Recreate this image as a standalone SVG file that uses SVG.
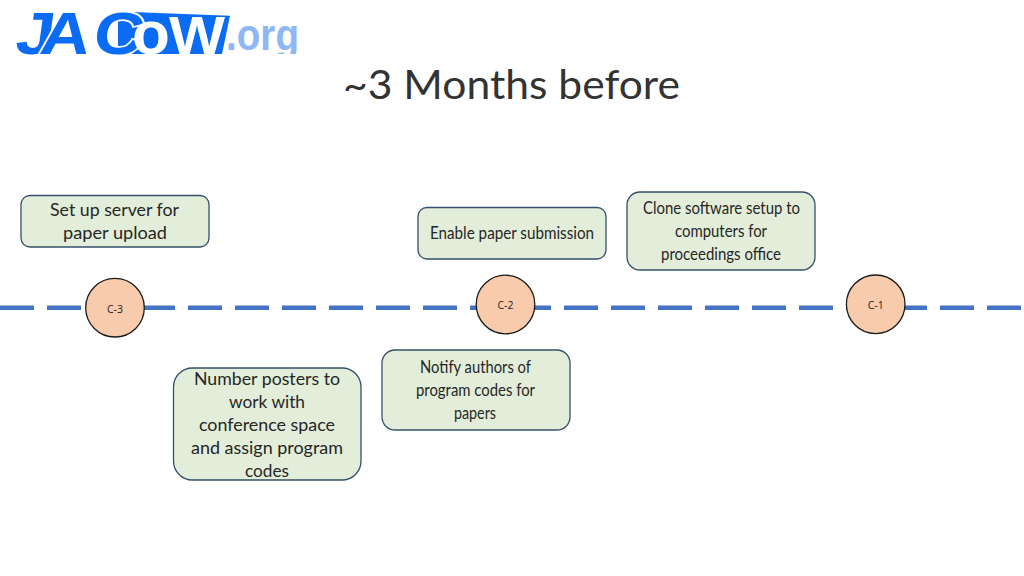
<svg xmlns="http://www.w3.org/2000/svg" width="1024" height="576" viewBox="0 0 1024 576">
<style>
.box{fill:#e2eed9;stroke:#34506a;stroke-width:1.3}
.circ{fill:#f7cbac;stroke:#1a1a1a;stroke-width:1.3}
.t{font-family:Lato,"Open Sans",sans-serif;font-size:18px;fill:#262626}
.c{font-family:"Open Sans",Lato,sans-serif;font-size:10.5px;fill:#222;text-anchor:middle}
.title{font-family:Lato,"Open Sans",sans-serif;font-size:41px;fill:#333}
.logo{font-family:"Liberation Sans",Arial,sans-serif;font-weight:700}
</style>
<rect width="1024" height="576" fill="#fff"/>
<g id="logo">
<polygon points="118,11.5 230,15.7 222,54 118,54" fill="#0a6cf5"/>
<text class="logo" y="54.5" x="12 33 79" font-size="59.5" fill="#0a6cf5" stroke="#fff" stroke-width="3.5" paint-order="stroke" transform="matrix(1.16 0 -0.14 1 7.6 0)">JAC</text>
<text class="logo" y="54" x="132 169" font-size="62" fill="#fff"><tspan>o</tspan><tspan font-size="54" textLength="56" lengthAdjust="spacingAndGlyphs">W</tspan></text>
<text class="logo" x="226" y="50" font-size="44" fill="#8fb6f5" textLength="73" lengthAdjust="spacingAndGlyphs">.org</text>
<rect x="268" y="54" width="36" height="8" fill="#fff"/>
</g>
<text id="title" class="title" x="343" y="99" textLength="337" lengthAdjust="spacingAndGlyphs">~3 Months before</text>
<g id="connectors">
<line x1="0" y1="307.7" x2="1024" y2="307.7" stroke="#4472c4" stroke-width="4.5" stroke-dasharray="34 13"/>
</g>
<g id="c3"><circle class="circ" cx="115" cy="307.7" r="29.3"/><text class="c" x="115" y="312.5">C-3</text></g>
<g id="c2"><circle class="circ" cx="505.5" cy="304.5" r="29.3"/><text class="c" x="505.5" y="308.5">C-2</text></g>
<g id="c1"><circle class="circ" cx="875.7" cy="304.3" r="29.3"/><text class="c" x="875.7" y="308.5">C-1</text></g>
<g id="n1"><rect class="box" x="21" y="195.5" width="188" height="51.5" rx="9"/>
<text class="t" x="50" y="216" textLength="129" lengthAdjust="spacingAndGlyphs">Set up server for</text>
<text class="t" x="63" y="239" textLength="104" lengthAdjust="spacingAndGlyphs">paper upload</text></g>
<g id="n2"><rect class="box" x="418" y="207.5" width="188" height="51.5" rx="9"/>
<text class="t" x="430" y="239" textLength="164" lengthAdjust="spacingAndGlyphs">Enable paper submission</text></g>
<g id="n3"><rect class="box" x="627" y="192" width="188" height="78" rx="13"/>
<text class="t" x="643" y="214" textLength="157" lengthAdjust="spacingAndGlyphs">Clone software setup to</text>
<text class="t" x="675" y="237" textLength="92" lengthAdjust="spacingAndGlyphs">computers for</text>
<text class="t" x="661" y="260" textLength="120" lengthAdjust="spacingAndGlyphs">proceedings office</text></g>
<g id="n4"><rect class="box" x="173.5" y="368" width="187.5" height="112" rx="19"/>
<text class="t" x="194" y="385" textLength="146" lengthAdjust="spacingAndGlyphs">Number posters to</text>
<text class="t" x="229" y="408" textLength="76" lengthAdjust="spacingAndGlyphs">work with</text>
<text class="t" x="199" y="431" textLength="136" lengthAdjust="spacingAndGlyphs">conference space</text>
<text class="t" x="191" y="454" textLength="152" lengthAdjust="spacingAndGlyphs">and assign program</text>
<text class="t" x="245" y="477" textLength="44" lengthAdjust="spacingAndGlyphs">codes</text></g>
<g id="n5"><rect class="box" x="382" y="350" width="188" height="80" rx="13"/>
<text class="t" x="420" y="373" textLength="111" lengthAdjust="spacingAndGlyphs">Notify authors of</text>
<text class="t" x="416" y="396" textLength="119" lengthAdjust="spacingAndGlyphs">program codes for</text>
<text class="t" x="454" y="419" textLength="42" lengthAdjust="spacingAndGlyphs">papers</text></g>
</svg>
